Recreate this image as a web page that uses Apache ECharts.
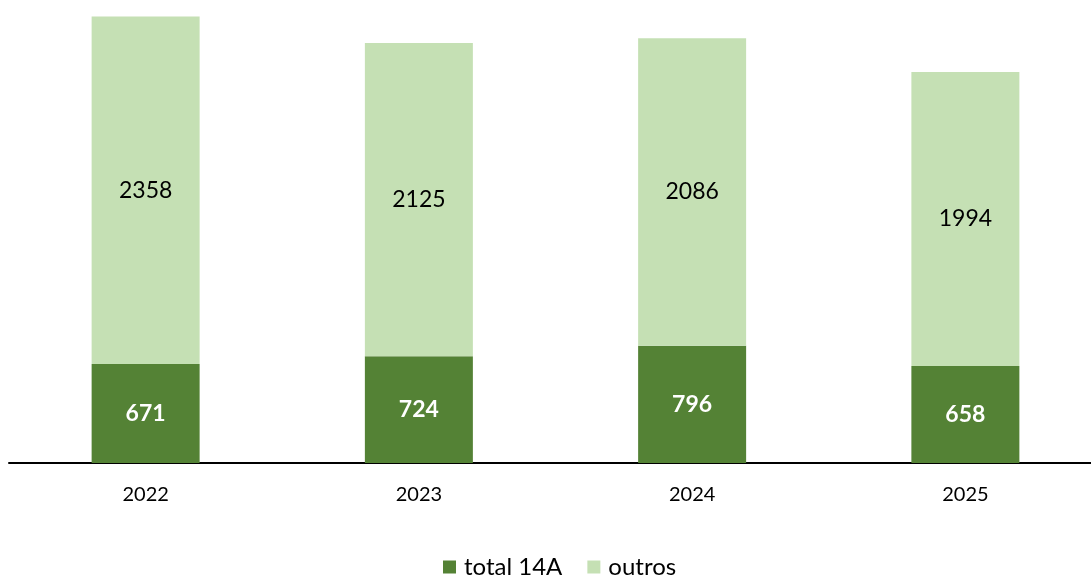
<!DOCTYPE html>
<html><head><meta charset="utf-8">
<script src="https://cdn.jsdelivr.net/npm/echarts@6/dist/echarts.min.js"></script>
<style>html,body{margin:0;padding:0;background:#fff}#c{width:1091px;height:576px}</style>
</head><body><div id="c"></div>
<script>
const categories = ['2022', '2023', '2024', '2025'];
const total14A = [671, 724, 796, 658];
const outros = [2358, 2125, 2086, 1994];
const seriesNames = ['total 14A', 'outros'];

const FONT = 'Lato, "Open Sans", sans-serif';
const chart = echarts.init(document.getElementById('c'));
chart.setOption({
  animation: false,
  grid: { left: 9, width: 1093, top: 6, bottom: 113, containLabel: false, outerBoundsMode: 'none' },
  legend: {
    bottom: -8, left: 438, itemWidth: 13, itemHeight: 13, itemGap: 25,
    icon: 'rect',
    textStyle: { fontFamily: FONT, fontSize: 24, color: '#000', padding: [0, 0, 0, 3] },
    data: seriesNames
  },
  xAxis: {
    type: 'category', data: categories,
    axisLine: { lineStyle: { color: '#000', width: 2 } },
    axisTick: { show: false },
    axisLabel: { fontFamily: FONT, fontSize: 20, color: '#000', margin: 22 }
  },
  yAxis: { type: 'value', min: 0, max: 3100, show: false, splitLine: { show: false } },
  series: [
    { name: seriesNames[0], type: 'bar', stack: 's', data: total14A, barWidth: 108,
      itemStyle: { color: '#548235' },
      label: { show: true, position: 'inside', color: '#fff', fontWeight: 'bold', fontFamily: FONT, fontSize: 23 } },
    { name: seriesNames[1], type: 'bar', stack: 's', data: outros, barWidth: 108,
      itemStyle: { color: '#C5E0B4' },
      label: { show: true, position: 'inside', color: '#000', fontFamily: FONT, fontSize: 23 } }
  ]
});
</script></body></html>
